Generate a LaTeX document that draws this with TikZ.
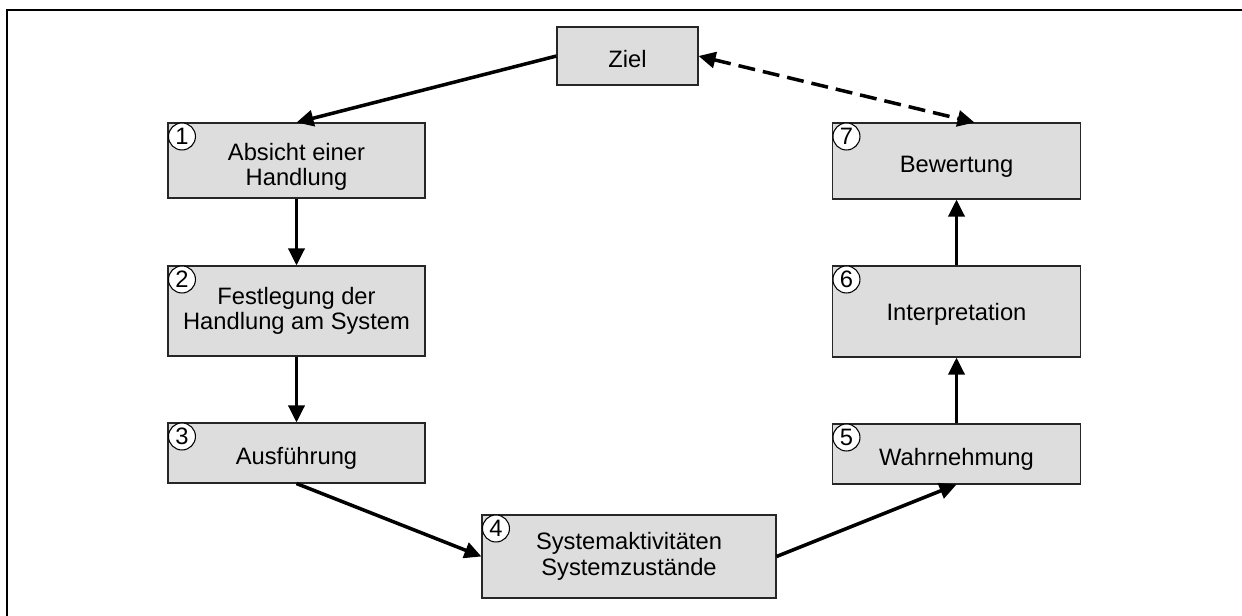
\documentclass[tikz,border=0pt]{standalone}
\usepackage{fontspec}
\setmainfont{Liberation Sans}
\usetikzlibrary{arrows.meta}

\definecolor{boxgray}{HTML}{DDDDDD}

\begin{document}
\begin{tikzpicture}[
  box/.style={draw=black!85, line width=0.6pt, fill=boxgray, align=center,
    inner sep=0pt, font=\fontsize{13.5}{14.4}\selectfont},
  links/.style={box, minimum width=5.14cm},
  rechts/.style={box, minimum width=4.96cm},
  nummer/.style={circle, draw, line width=0.6pt, fill=white, inner sep=0pt,
    minimum size=0.54cm, font=\fontsize{13.5}{14}\selectfont},
  pfeil/.style={line width=2pt, -{Triangle[length=0.34cm,width=0.32cm]}},
]
\useasboundingbox (0,0) rectangle (24.84,-12.32);

% Rahmen
\draw[line width=1.1pt] (0.14,-12.5) -- (0.14,-0.2) -- (25,-0.2);

\node[box, minimum width=2.82cm, minimum height=1.16cm] (ziel) at (12.55,-1.12) {\rule{0pt}{0.45cm}Ziel};

\node[links, minimum height=1.5cm] (b1) at (5.93,-3.21) {\rule{0pt}{0.59cm}Absicht einer\\Handlung};
\node[links, minimum height=1.8cm] (b2) at (5.93,-6.22) {Festlegung der\\Handlung am System};
\node[links, minimum height=1.2cm] (b3) at (5.93,-9.06) {\rule{0pt}{0.55cm}Ausführung};
\node[box, minimum width=5.88cm, minimum height=1.66cm] (b4) at (12.58,-11.13) {Systemaktivitäten\\Systemzustände};
\node[rechts, minimum height=1.2cm] (b5) at (19.13,-9.08) {\rule{0pt}{0.55cm}Wahrnehmung};
\node[rechts, minimum height=1.82cm] (b6) at (19.13,-6.23) {\rule{0pt}{0.45cm}Interpretation};
\node[rechts, minimum height=1.52cm] (b7) at (19.13,-3.22) {\rule{0pt}{0.55cm}Bewertung};

\foreach \i in {1,...,7}
  \node[nummer] (n\i) at ([xshift=0.29cm,yshift=-0.28cm]b\i.north west) {\i};

\draw[pfeil] (ziel.west) -- (b1.north);
\draw[pfeil] (b1) -- (b2);
\draw[pfeil] (b2) -- (b3);
\draw[pfeil] (b3.south) -- (b4.west);
\draw[pfeil] (b4.east) -- (b5.south);
\draw[pfeil] (b5) -- (b6);
\draw[pfeil] (b6) -- (b7);
\draw[pfeil, {Triangle[length=0.34cm,width=0.32cm]}-{Triangle[length=0.34cm,width=0.32cm]},
  dash pattern=on 0.34cm off 0.16cm] (ziel.east) -- ([xshift=0.36cm]b7.north);
\end{tikzpicture}
\end{document}
